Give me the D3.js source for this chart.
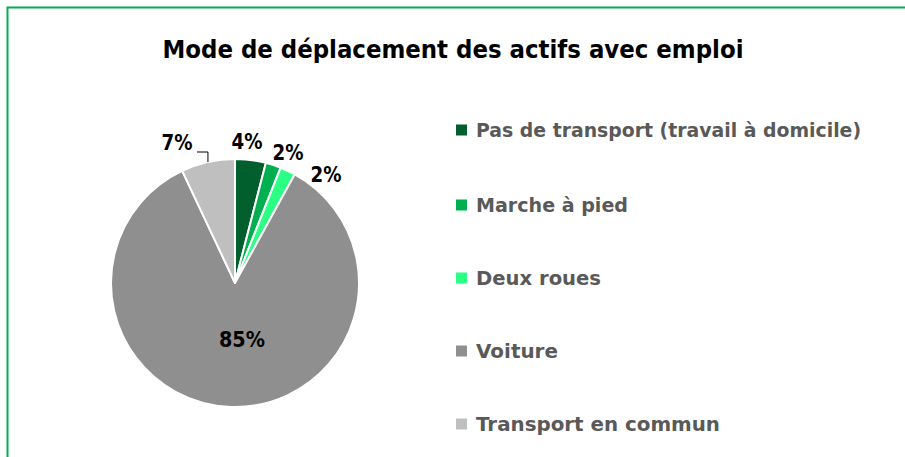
<!DOCTYPE html>
<html>
<head>
<meta charset="utf-8">
<script src="https://cdn.jsdelivr.net/npm/d3@7"></script>
<style>
  html, body { margin: 0; padding: 0; background: #fff; }
  svg { display: block; }
  text { font-family: "DejaVu Sans", "Open Sans", sans-serif; font-weight: bold; }
</style>
</head>
<body>
<svg id="chart" width="905" height="457"></svg>
<script>
// Commute modes of employed residents (shares in %)
const categories = [
  "Pas de transport (travail à domicile)",
  "Marche à pied",
  "Deux roues",
  "Voiture",
  "Transport en commun"
];
const values = [4, 2, 2, 85, 7];
const colors = ["#005f2d", "#00b050", "#2bff84", "#8f8f8f", "#bfbfbf"];
const title = "Mode de déplacement des actifs avec emploi";

const svg = d3.select("#chart");
const W = 905, H = 457;

// frame
svg.append("rect")
  .attr("x", 7.5).attr("y", 7.5)
  .attr("width", W).attr("height", H)
  .attr("fill", "#fff")
  .attr("stroke", "#00b050").attr("stroke-width", 2);

// fits a text element to a given pixel width
function fitWidth(sel, w) {
  sel.attr("textLength", w).attr("lengthAdjust", "spacingAndGlyphs");
}

svg.append("text")
  .attr("x", 453).attr("y", 58)
  .attr("text-anchor", "middle")
  .attr("font-size", 25)
  .attr("fill", "#000")
  .text(title)
  .call(fitWidth, 581);

// pie
const cx = 235, cy = 283, R = 124;
const pie = d3.pie().sort(null).value(d => d);
const arcs = pie(values);
const arc = d3.arc().innerRadius(0).outerRadius(R);

const g = svg.append("g").attr("transform", `translate(${cx},${cy})`);
g.selectAll("path.slice")
  .data(arcs)
  .join("path")
  .attr("class", "slice")
  .attr("d", arc)
  .attr("fill", (d, i) => colors[i])
  .attr("stroke", "#fff")
  .attr("stroke-width", 2)
  .attr("stroke-linejoin", "round");

// data labels (offsets from the pie centre)
const labelPos = [
  [12, -141],
  [53, -130],
  [91, -108],
  [7, 57],
  [-58, -140]
];
g.selectAll("text.val")
  .data(arcs)
  .join("text")
  .attr("class", "val")
  .attr("x", (d, i) => labelPos[i][0])
  .attr("y", (d, i) => labelPos[i][1])
  .attr("text-anchor", "middle")
  .attr("dominant-baseline", "central")
  .attr("font-size", 21)
  .attr("fill", "#000")
  .text(d => d3.format(".0f")(d.data) + "%")
  .each(function() { d3.select(this).call(fitWidth, this.textContent.length === 2 ? 31 : 46); });

// leader line for the public transport label
const tc = arcs[4];
const mid = (tc.startAngle + tc.endAngle) / 2;
const ex = Math.sin(mid) * R, ey = -Math.cos(mid) * R;
g.append("path")
  .attr("d", `M${-38},${-131}H${ex}V${ey}`)
  .attr("fill", "none")
  .attr("stroke", "#000")
  .attr("stroke-width", 1);

// legend
const legendY = [130, 205, 278, 351, 424];
const lg = svg.append("g");
const rows = lg.selectAll("g")
  .data(categories)
  .join("g")
  .attr("transform", (d, i) => `translate(456,${legendY[i]})`);
rows.append("rect")
  .attr("x", 0).attr("y", -5.5)
  .attr("width", 11).attr("height", 11)
  .attr("fill", (d, i) => colors[i]);
const legendW = [385, 152, 125, 82, 244];
rows.append("text")
  .attr("x", 20).attr("y", 0)
  .attr("dominant-baseline", "central")
  .attr("font-size", 20)
  .attr("fill", "#595959")
  .text(d => d)
  .each(function(d, i) { d3.select(this).call(fitWidth, legendW[i]); });
</script>
</body>
</html>
